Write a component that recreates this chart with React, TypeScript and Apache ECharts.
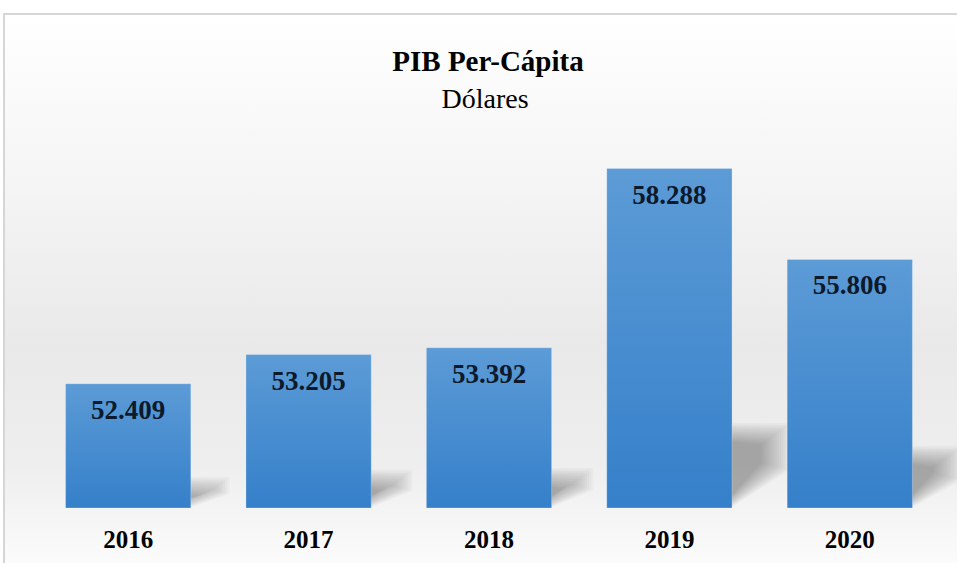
import React, { useEffect, useRef } from "react";
import * as echarts from "echarts";

const years = ["2016", "2017", "2018", "2019", "2020"];
const gdpPerCapita = [52409, 53205, 53392, 58288, 55806];
const titleText = "PIB Per-Cápita";
const subtitleText = "Dólares";

const fmt = (v: number) => {
  const s = String(Math.round(v));
  return s.replace(/\B(?=(\d{3})+(?!\d))/g, ".");
};

const AXIS_MIN = 49000;
const AXIS_MAX = 59000;

export default function App() {
  const ref = useRef<HTMLDivElement>(null);
  useEffect(() => {
    if (!ref.current) return;
    const chart = echarts.init(ref.current, null, { renderer: "svg" });
    const serif = "'Liberation Serif', 'Times New Roman', serif";
    chart.setOption({
      animation: false,
      backgroundColor: "#ffffff",
      graphic: [
        {
          type: "rect",
          z: -10,
          silent: true,
          shape: { x: 4, y: 14, width: 1010, height: 600 },
          style: {
            fill: new echarts.graphic.LinearGradient(0, 0, 0, 1, [
              { offset: 0, color: "#ffffff" },
              { offset: 0.3, color: "#f4f4f4" },
              { offset: 0.55, color: "#e9e9e9" },
              { offset: 0.75, color: "#eeeeee" },
              { offset: 0.9, color: "#fafafa" },
              { offset: 1, color: "#ffffff" },
            ]),
            stroke: "#d6d6d6",
            lineWidth: 2,
          },
        },
      ],
      title: [
        {
          text: titleText,
          left: 483,
          textAlign: "center",
          top: 41,
          textStyle: { fontFamily: serif, fontWeight: "bold", fontSize: 29, color: "#000" },
        },
        {
          text: subtitleText,
          left: 480,
          textAlign: "center",
          top: 79,
          textStyle: { fontFamily: serif, fontWeight: "normal", fontSize: 28, color: "#000" },
        },
      ],
      grid: { left: 38, right: 17, top: 142, bottom: 55 },
      xAxis: {
        type: "category",
        data: years,
        axisLine: { show: false },
        axisTick: { show: false },
        axisLabel: {
          margin: 19,
          fontFamily: serif,
          fontWeight: "bold",
          fontSize: 25,
          color: "#000",
        },
      },
      yAxis: {
        type: "value",
        min: AXIS_MIN,
        max: AXIS_MAX,
        show: false,
        splitLine: { show: false },
      },
      series: [
        {
          type: "custom",
          z: 1,
          silent: true,
          data: gdpPerCapita.map((v, i) => [i, v]),
          renderItem: (params: any, api: any) => {
            const idx = api.value(0);
            const val = api.value(1);
            const base = api.coord([idx, AXIS_MIN]);
            const top = api.coord([idx, val]);
            const size = api.size([1, 0])[0];
            const xr = base[0] + (size * 0.7) / 2;
            const y0 = base[1];
            const h = y0 - top[1];
            const hs = 0.25 * h;
            const w = 27 + 0.09 * h;
            const children: any[] = [];
            const layers = 14;
            for (let k = 0; k < layers; k++) {
              const d = k * 1.4;
              const yt = y0 - hs + d;
              const xRight = xr + w - d * 1.6;
              const yBr = y0 - hs * 0.45 - d * 0.4;
              children.push({
                type: "polygon",
                shape: {
                  points: [
                    [xr - 2, y0 - d * 0.6],
                    [xr - 2, yt],
                    [xRight, yt + d * 0.2],
                    [xRight, Math.max(yBr, yt + 2)],
                  ],
                },
                style: { fill: "rgba(0,0,0,0.022)" },
              });
            }
            return { type: "group", children };
          },
        },
        {
          type: "bar",
          z: 2,
          data: gdpPerCapita,
          barWidth: "70%",
          itemStyle: {
            color: new echarts.graphic.LinearGradient(0, 0, 0, 1, [
              { offset: 0, color: "#5c9bd6" },
              { offset: 1, color: "#3580ca" },
            ]),
            borderColor: "rgba(255,255,255,0.25)",
            borderWidth: 1,
          },
          label: {
            show: true,
            position: "insideTop",
            distance: 13,
            formatter: (p: any) => fmt(p.value),
            fontFamily: serif,
            fontWeight: "bold",
            fontSize: 27,
            color: "#0d1a2b",
          },
        },
      ],
    });
    return () => chart.dispose();
  }, []);
  return (
    <div
      ref={ref}
      style={{ position: "fixed", left: 0, top: 0, width: 957, height: 563 }}
    />
  );
}
